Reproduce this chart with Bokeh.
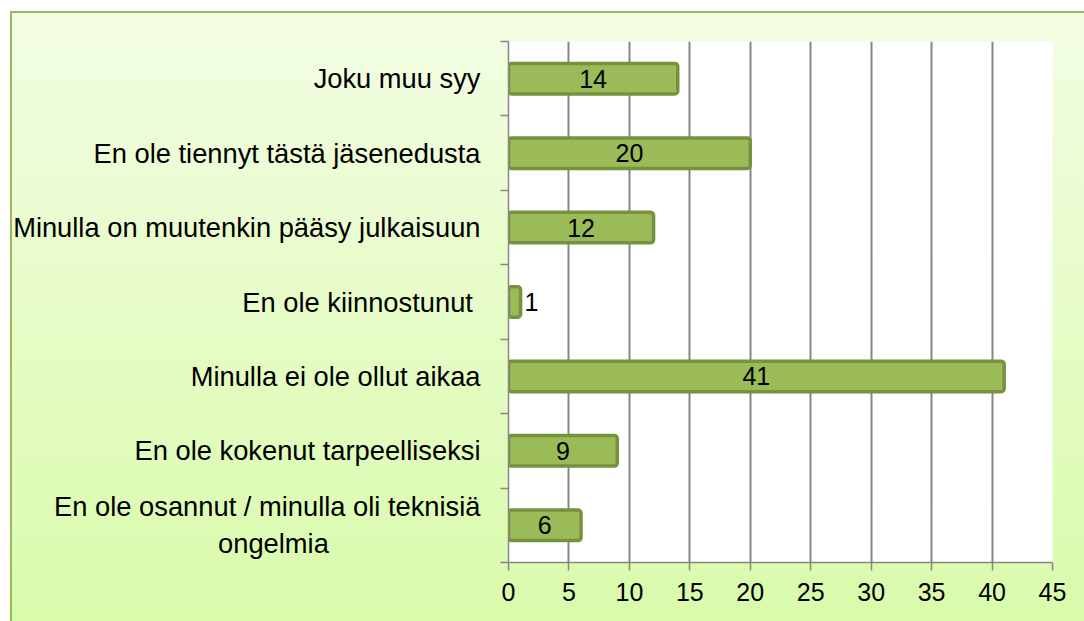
from bokeh.plotting import figure
from bokeh.models import ColumnDataSource, FixedTicker, Range1d
from bokeh.embed import file_html
from bokeh.resources import INLINE
from bokeh.core.properties import value

# Data (bottom to top)
categories = [
    "En ole osannut / minulla oli teknisiä\nongelmia",
    "En ole kokenut tarpeelliseksi",
    "Minulla ei ole ollut aikaa",
    "En ole kiinnostunut ",
    "Minulla on muutenkin pääsy julkaisuun",
    "En ole tiennyt tästä jäsenedusta",
    "Joku muu syy",
]
counts = [6, 9, 41, 1, 12, 20, 14]
x_ticks = [0, 5, 10, 15, 20, 25, 30, 35, 40, 45]

FONT = "Liberation Sans"
GRID = "#868686"
CAT_SIZE = "27.3px"
NUM_SIZE = "25px"

n = len(categories)
ypos = [i + 0.5 for i in range(n)]


def centre_lines(label, pad=20):
    # Axis labels align multi-line text to the right; pad continuation
    # lines with non-breaking spaces so they appear centred under line 1.
    lines = label.split("\n")
    if len(lines) == 1:
        return label
    return "\n".join([lines[0]] + [ln + "\u00a0" * pad for ln in lines[1:]])


inside = [c >= 3 for c in counts]
lab_x = [c / 2 if ins else c for c, ins in zip(counts, inside)]
src_in = ColumnDataSource(dict(
    y=[y for y, ins in zip(ypos, inside) if ins],
    x=[x for x, ins in zip(lab_x, inside) if ins],
    t=[str(c) for c, ins in zip(counts, inside) if ins],
))
src_out = ColumnDataSource(dict(
    y=[y for y, ins in zip(ypos, inside) if not ins],
    x=[x for x, ins in zip(lab_x, inside) if not ins],
    t=[str(c) for c, ins in zip(counts, inside) if not ins],
))
bars = ColumnDataSource(dict(y=ypos, right=counts))

p = figure(width=1084, height=621, output_backend="svg", toolbar_location=None,
           x_range=Range1d(0, 45), y_range=Range1d(0, n),
           min_border_left=508, min_border_right=32,
           min_border_top=41, min_border_bottom=59)

p.border_fill_color = None
p.background_fill_color = "white"
p.outline_line_color = None
p.styles = {
    "background": (
        "linear-gradient(#9bbb59,#9bbb59) 10px 11px / 2px 100% no-repeat,"
        "linear-gradient(#9bbb59,#9bbb59) 10px 11px / 100% 2px no-repeat,"
        "linear-gradient(to bottom, #f3fde4 0%, #e6fcc6 50%, #d8fbaa 100%) 10px 11px / 100% 100% no-repeat,"
        "white"
    )
}

p.hbar(y="y", right="right", left=0, height=0.41, source=bars,
       fill_color="#9bbb59", line_color="#76923c", line_width=3.5,
       border_radius=3)

p.text(x="x", y="y", text="t", source=src_in, text_align="center",
       text_baseline="middle", text_font=value(FONT), text_font_size=NUM_SIZE,
       text_color="black")
p.text(x="x", y="y", text="t", source=src_out, text_align="left",
       text_baseline="middle", text_font=value(FONT), text_font_size=NUM_SIZE,
       text_color="black", x_offset=4)

# x axis
p.xaxis.ticker = FixedTicker(ticks=x_ticks)
p.xaxis.axis_line_color = GRID
p.xaxis.axis_line_width = 1.5
p.xaxis.major_tick_line_color = GRID
p.xaxis.major_tick_line_width = 1.5
p.xaxis.major_tick_out = 8
p.xaxis.major_tick_in = 0
p.xaxis.minor_tick_line_color = None
p.xaxis.major_label_text_font = FONT
p.xaxis.major_label_text_font_size = NUM_SIZE
p.xaxis.major_label_text_color = "black"
p.xaxis.major_label_standoff = 12

# y axis: labels at category centres, ticks at category boundaries
p.yaxis.ticker = FixedTicker(ticks=ypos, minor_ticks=list(range(n + 1)))
p.yaxis.major_label_overrides = {y: centre_lines(c) for y, c in zip(ypos, categories)}
p.yaxis.axis_line_color = GRID
p.yaxis.axis_line_width = 1.5
p.yaxis.major_tick_line_color = None
p.yaxis.major_tick_out = 0
p.yaxis.major_tick_in = 0
p.yaxis.minor_tick_line_color = GRID
p.yaxis.minor_tick_line_width = 1.5
p.yaxis.minor_tick_out = 8
p.yaxis.minor_tick_in = 0
p.yaxis.major_label_text_font = FONT
p.yaxis.major_label_text_font_size = CAT_SIZE
p.yaxis.major_label_text_color = "black"
p.yaxis.major_label_standoff = 20

p.xgrid.grid_line_color = GRID
p.xgrid.grid_line_width = 2
p.xgrid.ticker = FixedTicker(ticks=x_ticks)
p.ygrid.grid_line_color = None

open("out.html", "w").write(file_html(p, INLINE))
